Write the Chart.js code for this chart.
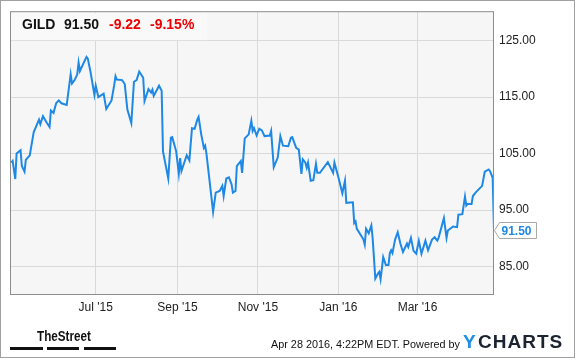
<!DOCTYPE html>
<html>
<head>
<meta charset="utf-8">
<script src="https://cdn.jsdelivr.net/npm/chart.js@4.4.0/dist/chart.umd.min.js"></script>
<style>
  body { margin: 0; background: #fff; }
  canvas { display: block; }
</style>
</head>
<body>
<canvas id="chart" width="575" height="358"></canvas>
<script>
// quote header
const symbol = "GILD";
const lastPrice = "91.50";
const change = "-9.22";
const changePct = "-9.15%";

// day offsets from Apr 28 2015, closing prices
const days = [0, 1, 3, 4, 7, 8, 10, 11, 14, 15, 17, 21, 22, 24, 27, 29, 30, 32, 34, 36, 38, 42,
  45, 46, 48, 50, 51, 52, 57, 58, 60, 63, 64, 66, 70, 72, 76, 78, 79, 80, 84, 86, 88, 91, 93,
  95, 97, 100, 101, 104, 106, 107, 108, 112, 114, 115, 119, 121, 122, 125, 127, 128, 129, 133,
  135, 137, 139, 141, 142, 144, 146, 147, 148, 153, 155, 158, 160, 161, 163, 165, 167, 168,
  170, 171, 174, 175, 177, 180, 182, 183, 184, 186, 188, 190, 192, 196, 197, 199, 202, 204,
  206, 210, 212, 213, 216, 218, 220, 221, 223, 224, 225, 227, 229, 231, 232, 234, 240, 244,
  245, 248, 251, 253, 254, 259, 260, 261, 262, 266, 267, 268, 269, 271, 273, 274, 276, 278,
  279, 280, 282, 284, 286, 287, 288, 289, 291, 293, 295, 297, 300, 301, 303, 305, 307, 309,
  311, 314, 316, 319, 321, 323, 324, 328, 330, 331, 335, 338, 339, 342, 344, 345, 346, 349,
  350, 352, 357, 359, 362, 363, 365, 366];
const prices = [103.4, 103.7, 100.5, 105.0, 105.6, 102.8, 101.8, 103.9, 104.7, 106.1, 108.8,
  111.0, 110.2, 111.6, 110.4, 109.7, 112.6, 112.2, 113.9, 114.4, 113.9, 113.6, 119.0, 117.4,
  118.0, 119.0, 121.1, 119.6, 122.1, 121.8, 119.5, 115.4, 117.0, 115.0, 115.6, 112.9, 114.4,
  117.1, 118.7, 118.1, 118.0, 117.3, 112.8, 110.4, 117.7, 118.0, 119.5, 118.4, 114.3, 116.4,
  115.8, 116.3, 115.2, 117.0, 116.1, 105.4, 100.6, 107.8, 107.9, 105.4, 101.5, 104.2, 101.9,
  104.7, 103.8, 109.5, 109.4, 111.0, 111.5, 108.4, 106.0, 106.4, 104.9, 94.7, 98.1, 98.4,
  99.3, 97.5, 100.6, 100.8, 99.6, 98.1, 98.4, 102.8, 103.7, 101.6, 107.7, 108.4, 110.8,
  109.0, 109.5, 108.2, 109.4, 109.1, 108.1, 108.2, 109.0, 102.6, 104.3, 108.1, 106.4, 106.3,
  107.8, 107.9, 106.0, 105.7, 101.4, 104.0, 103.4, 102.5, 103.4, 100.2, 100.3, 103.2, 101.6,
  101.6, 103.5, 101.6, 103.4, 100.8, 98.0, 100.2, 96.3, 96.4, 92.7, 93.0, 91.7, 90.2, 89.8,
  88.9, 91.7, 90.9, 92.3, 90.0, 82.9, 83.8, 84.1, 82.8, 86.7, 85.3, 85.3, 87.4, 87.9, 87.4,
  89.8, 91.1, 89.1, 87.6, 89.1, 88.5, 90.1, 87.8, 87.3, 89.6, 87.3, 89.6, 87.9, 89.8, 90.2,
  89.6, 90.1, 93.6, 90.1, 91.4, 92.1, 92.0, 94.2, 94.3, 97.4, 95.8, 96.1, 96.1, 97.5, 98.1,
  99.3, 101.8, 102.2, 101.9, 100.72, 91.5];

// axis ticks
const xTickDays = [64, 126, 187, 248, 308];
const xTickLabels = ["Jul '15", "Sep '15", "Nov '15", "Jan '16", "Mar '16"];
const yTicks = [85, 95, 105, 115, 125];

const FONT = '"Liberation Sans", Arial, sans-serif';
const BLUE = "#1e88e5";

// background, header, borders, last value tag and footer
const decor = {
  id: "decor",
  beforeDraw(chart) {
    const { ctx, chartArea: a } = chart;
    ctx.save();
    ctx.fillStyle = "#fff";
    ctx.fillRect(0, 0, chart.width, chart.height);
    ctx.fillStyle = "#f6f6f6";
    ctx.fillRect(a.left, a.top, a.right - a.left, a.bottom - a.top);
    ctx.restore();
  },
  afterDraw(chart) {
    const { ctx, chartArea: a } = chart;
    const yScale = chart.scales.y;
    ctx.save();

    // header box
    ctx.fillStyle = "#f9f9f9";
    ctx.fillRect(a.left + 1, a.top + 1, 196, 27);
    ctx.textBaseline = "alphabetic";
    ctx.font = "bold 14px " + FONT;
    ctx.fillStyle = "#111";
    ctx.fillText(symbol, 22, 29);
    ctx.fillText(lastPrice, 64, 29);
    ctx.fillStyle = "#ee0000";
    ctx.fillText(change, 109, 29);
    ctx.fillText(changePct, 150, 29);

    // plot border
    ctx.strokeStyle = "#8c8c8c";
    ctx.lineWidth = 1;
    ctx.strokeRect(a.left + 0.5, a.top - 0.5, a.right - a.left - 1, a.bottom - a.top);

    // outer frame
    ctx.strokeStyle = "#a0a0a0";
    ctx.strokeRect(0.5, 0.5, chart.width - 1, chart.height - 1);

    // last value tag
    const last = prices[prices.length - 1];
    const yv = Math.round(yScale.getPixelForValue(last)) + 0.5;
    const x0 = a.right + 0.5;
    ctx.beginPath();
    ctx.moveTo(x0, yv);
    ctx.lineTo(x0 + 5, yv - 8);
    ctx.lineTo(x0 + 42, yv - 8);
    ctx.lineTo(x0 + 42, yv + 8);
    ctx.lineTo(x0 + 5, yv + 8);
    ctx.closePath();
    ctx.fillStyle = "#fff";
    ctx.fill();
    ctx.strokeStyle = "#a8a8a8";
    ctx.stroke();
    ctx.fillStyle = BLUE;
    ctx.font = "bold 12px " + FONT;
    ctx.textBaseline = "middle";
    ctx.fillText(last.toFixed(2), x0 + 7, yv + 1);

    // footer: TheStreet
    ctx.textBaseline = "alphabetic";
    ctx.fillStyle = "#111";
    ctx.font = 'bold 15px "Liberation Sans Narrow", ' + FONT;
    ctx.fillText("TheStreet", 37, 341, 54);
    ctx.fillRect(10, 347, 33, 3);
    ctx.fillRect(47, 347, 32, 3);
    ctx.fillRect(84, 347, 32, 3);

    // footer: date + YCHARTS
    ctx.font = "11px " + FONT;
    ctx.fillStyle = "#111";
    ctx.fillText("Apr 28 2016, 4:22PM EDT. Powered by", 271, 348, 189);
    ctx.font = "bold 19px " + FONT;
    ctx.fillStyle = "#1a8fe3";
    ctx.fillText("Y", 463, 348);
    ctx.fillStyle = "#1b2430";
    ctx.letterSpacing = "1px";
    ctx.fillText("CHARTS", 478, 348);
    ctx.restore();
  }
};

new Chart(document.getElementById("chart"), {
  type: "line",
  data: {
    datasets: [{
      data: days.map((d, i) => ({ x: d, y: prices[i] })),
      borderColor: BLUE,
      borderWidth: 2,
      pointRadius: 0,
      tension: 0,
      fill: false
    }]
  },
  options: {
    responsive: false,
    animation: false,
    layout: { padding: { left: 10, top: 11, right: 0, bottom: 0 } },
    plugins: { legend: { display: false }, tooltip: { enabled: false } },
    scales: {
      x: {
        type: "linear",
        min: -1,
        max: 366,
        afterBuildTicks: (s) => { s.ticks = xTickDays.map((v) => ({ value: v })); },
        afterFit: (s) => { s.height = 63; },
        grid: { color: "#d9d9d9", drawTicks: false },
        border: { display: false },
        ticks: {
          autoSkip: false,
          maxRotation: 0,
          padding: 5,
          color: "#222",
          font: { family: FONT, size: 12 },
          callback: (v, i) => xTickLabels[i]
        }
      },
      y: {
        position: "right",
        min: 80,
        max: 130,
        afterBuildTicks: (s) => { s.ticks = yTicks.map((v) => ({ value: v })); },
        afterFit: (s) => { s.width = 81; },
        grid: { color: "#d9d9d9", drawTicks: false },
        border: { display: false },
        ticks: {
          padding: 5,
          color: "#222",
          font: { family: FONT, size: 12 },
          callback: (v) => Number(v).toFixed(2)
        }
      }
    }
  },
  plugins: [decor]
});
</script>
</body>
</html>
